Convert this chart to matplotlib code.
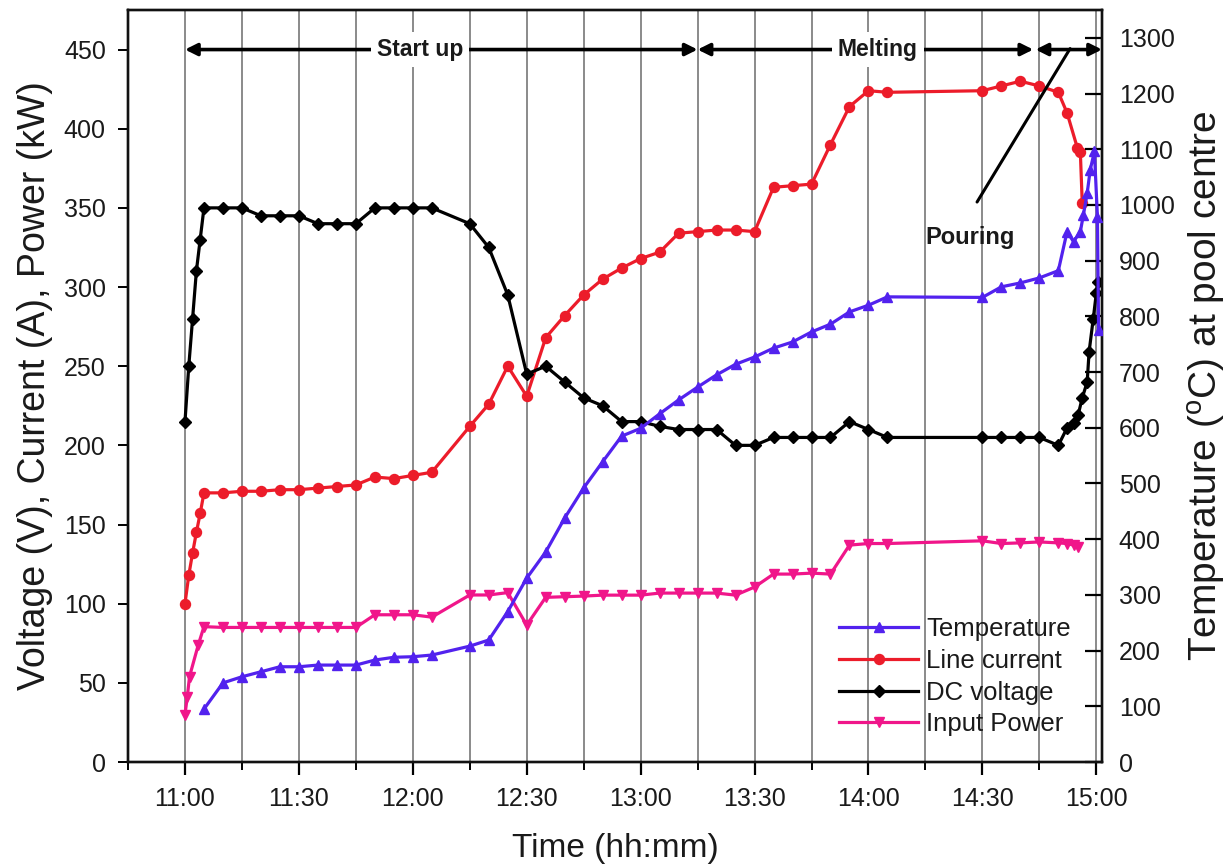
import matplotlib
matplotlib.use('Agg')
import matplotlib.pyplot as plt
from matplotlib.ticker import MultipleLocator, FixedLocator

plt.rcParams['font.family'] = ['Liberation Sans', 'DejaVu Sans']

# ---------------- data (time in minutes after 11:00) ----------------
dc_time = [0, 1, 2, 3, 4, 5, 10, 15, 20, 25, 30, 35, 40, 45, 50, 55, 60, 65,
           75, 80, 85, 90, 95, 100, 105, 110, 115, 120, 125, 130, 135, 140, 145, 150,
           155, 160, 165, 170, 175, 180, 185, 210, 215, 220, 225, 230,
           232.3, 234, 235.2, 236.3, 237.6, 238.1, 239.2, 240, 240.5]
dc_voltage = [215, 250, 280, 310, 330, 350, 350, 350, 345, 345, 345, 340, 340, 340,
              350, 350, 350, 350,
              340, 325, 295, 245, 250, 240, 230, 225, 215, 215, 212, 210, 210, 210, 200, 200,
              205, 205, 205, 205, 215, 210, 205, 205, 205, 205, 205, 200,
              211, 214, 219, 230, 240, 259, 280, 296, 303]

cur_time = [0, 1, 2, 3, 4, 5, 10, 15, 20, 25, 30, 35, 40, 45, 50, 55, 60, 65,
            75, 80, 85, 90, 95, 100, 105, 110, 115, 120, 125, 130, 135, 140, 145, 150,
            155, 160, 165, 170, 175, 180, 185, 210, 215, 220, 225, 230,
            232.3, 235, 235.8, 236.3]
line_current = [100, 118, 132, 145, 157, 170, 170, 171, 171, 172, 172, 173, 174, 175,
                180, 179, 181, 183,
                212, 226, 250, 231, 268, 282, 295, 305, 312, 318, 322, 334, 335, 336, 336, 335,
                363, 364, 365, 390, 414, 424, 423, 424, 427, 430, 427, 423,
                410, 388, 385, 353]

temp_time = [5, 10, 15, 20, 25, 30, 35, 40, 45, 50, 55, 60, 65,
             75, 80, 85, 90, 95, 100, 105, 110, 115, 120, 125, 130, 135, 140, 145, 150,
             155, 160, 165, 170, 175, 180, 185, 210, 215, 220, 225, 230,
             232.3, 234, 235.8, 236.6, 237.6, 238.4, 239.5, 240.3, 240.6]
temperature = [95, 142, 153, 162, 171, 171, 174, 174, 174, 183, 188, 189, 192,
               208, 219, 270, 330, 377, 438, 492, 539, 585, 599, 625, 650, 673, 695, 714, 727,
               743, 754, 772, 786, 808, 820, 835, 834, 853, 860, 869, 882,
               952, 934, 952, 982, 1021, 1063, 1096, 979, 776]

pow_time = [0, 0.6, 1.2, 3.5, 5, 10, 15, 20, 25, 30, 35, 40, 45, 50, 55, 60, 65,
            75, 80, 85, 90, 95, 100, 105, 110, 115, 120, 125, 130, 135, 140, 145, 150,
            155, 160, 165, 170, 175, 180, 185, 210, 215, 220, 225, 230,
            232.3, 234, 235.2]
input_power = [30, 41, 54, 74, 85.5, 85, 85, 85, 85, 85, 85, 85, 85, 93, 93, 93, 91.5,
               105.5, 105.5, 107, 86.5, 104, 104.4, 104.8, 105.4, 105.4, 105.4, 106.7, 106.7,
               106.7, 106.7, 105.4, 110.5,
               118.7, 118.7, 119.3, 118.7, 137, 138, 138, 139.7, 138, 138.4, 139, 138.4,
               138, 137, 136]

tick_minutes = [0, 30, 60, 90, 120, 150, 180, 210, 240]
tick_labels = ['11:00', '11:30', '12:00', '12:30', '13:00', '13:30', '14:00', '14:30', '15:00']

# phases (start, end in minutes) and labels
phase_names = ['Start up', 'Melting', '']
phase_start = [0, 135, 224]
phase_end = [135, 223.4, 241.5]
phase_label_x = [62, 182.5, None]

# ---------------- styling ----------------
C_TEMP = '#5222EE'
C_CUR = '#EC1C2A'
C_DC = '#000000'
C_POW = '#F0168A'
TXT = '#1a1a1a'
LW = 2.3

fig = plt.figure(figsize=(12.31, 8.67), dpi=100)
ax = fig.add_axes([0.104, 0.1211, 0.7912, 0.8674])
ax2 = ax.twinx()

ax.set_xlim(-15, 241.5)
ax.set_ylim(0, 475)
ax2.set_ylim(0, 1350)

ax.xaxis.set_major_locator(FixedLocator(tick_minutes))
ax.set_xticklabels(tick_labels)
ax.xaxis.set_minor_locator(MultipleLocator(15))
ax.yaxis.set_major_locator(MultipleLocator(50))
ax2.set_yticks(range(0, 1301, 100))

ax.xaxis.grid(True, which='both', color='#8a8a8a', lw=1.4)
ax.set_axisbelow(True)

l_cur, = ax.plot(cur_time, line_current, '-o', color=C_CUR, lw=LW, ms=7.2, label='Line current', zorder=3)
l_dc, = ax.plot(dc_time, dc_voltage, '-D', color=C_DC, lw=LW, ms=6.2, label='DC voltage', zorder=3)
l_pow, = ax.plot(pow_time, input_power, '-v', color=C_POW, lw=LW, ms=7.5, label='Input Power', zorder=3)
l_temp, = ax2.plot(temp_time, temperature, '-^', color=C_TEMP, lw=LW, ms=7.5, label='Temperature', zorder=3)

for a in (ax, ax2):
    for s in a.spines.values():
        s.set_linewidth(1.7)
        s.set_color('#111111')

ax.tick_params(axis='x', which='major', direction='out', length=9, width=1.6, pad=9,
               labelsize=18, labelcolor=TXT)
ax.tick_params(axis='x', which='minor', direction='out', length=6, width=1.4)
ax.tick_params(axis='y', which='major', direction='out', length=7, width=1.4, pad=9,
               labelsize=18, labelcolor=TXT)
ax2.tick_params(axis='y', which='major', direction='in', length=12, width=1.6, pad=12,
                labelsize=18, labelcolor=TXT)

ax.set_xlabel('Time (hh:mm)', fontsize=24, color=TXT, labelpad=16)
ax.set_ylabel('Voltage (V), Current (A), Power (kW)', fontsize=27, color=TXT, labelpad=8)
ax2.set_ylabel('Temperature ($^{\\mathregular{o}}$C) at pool centre', fontsize=28, color=TXT, labelpad=8)

# phase arrows
for name, s, e, lx in zip(phase_names, phase_start, phase_end, phase_label_x):
    ax.annotate('', xy=(e, 450), xytext=(s, 450),
                arrowprops=dict(arrowstyle='<|-|>', color='k', lw=2.6, mutation_scale=18,
                                shrinkA=0, shrinkB=0), zorder=4)
    if name:
        ax.text(lx, 450, name, ha='center', va='center', fontsize=16.5, fontweight='bold',
                color=TXT, zorder=5,
                bbox=dict(boxstyle='square,pad=0.25', fc='white', ec='none'))

# pouring label and pointer
ax.annotate('', xy=(233.1, 450.6), xytext=(208.6, 353.7),
            arrowprops=dict(arrowstyle='-', color='k', lw=2.2, shrinkA=0, shrinkB=0), zorder=4)
ax.text(206.8, 331, 'Pouring', ha='center', va='center', fontsize=17, fontweight='bold',
        color=TXT, zorder=5)

leg = ax.legend(handles=[l_temp, l_cur, l_dc, l_pow], loc='lower right',
                bbox_to_anchor=(0.968, 0.034), frameon=False, fontsize=18.5,
                handlelength=3.1, handletextpad=0.3, labelspacing=0.3,
                borderpad=0, borderaxespad=0, labelcolor=TXT)
leg.set_zorder(10)

fig.savefig('out.png', dpi=100)
